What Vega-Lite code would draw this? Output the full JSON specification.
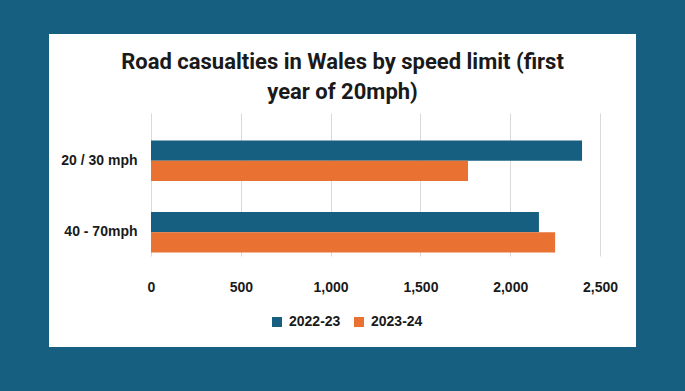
{
  "$schema": "https://vega.github.io/schema/vega-lite/v6.json",
  "autosize": {"type": "none"},
  "width": 587,
  "height": 313,
  "padding": {"left": 49, "top": 34, "right": 49, "bottom": 44},
  "background": "#175f81",
  "title": {
    "text": ["Road casualties in Wales by speed limit (first", "year of 20mph)"],
    "font": "Roboto",
    "fontSize": 22,
    "fontWeight": "bold",
    "color": "#1a1a1a",
    "anchor": "middle",
    "frame": "group",
    "offset": -70,
    "lineHeight": 30
  },
  "data": {
    "values": [
      {"speed": "20 / 30 mph", "year": "2022-23", "casualties": 2400},
      {"speed": "20 / 30 mph", "year": "2023-24", "casualties": 1765},
      {"speed": "40 - 70mph", "year": "2022-23", "casualties": 2160},
      {"speed": "40 - 70mph", "year": "2023-24", "casualties": 2250}
    ]
  },
  "mark": {"type": "bar"},
  "encoding": {
    "y": {
      "field": "speed",
      "type": "nominal",
      "sort": ["20 / 30 mph", "40 - 70mph"],
      "scale": {"range": [91, 234], "paddingInner": 0, "paddingOuter": 0},
      "axis": {
        "title": null,
        "domain": false,
        "ticks": false,
        "tickSize": 0,
        "labelPadding": 0,
        "offset": -88,
        "labelFont": "Liberation Sans",
        "labelFontSize": 14,
        "labelFontWeight": "bold",
        "labelColor": "#1a1a1a"
      }
    },
    "yOffset": {
      "field": "year",
      "type": "nominal",
      "scale": {"paddingOuter": 0.76, "paddingInner": 0}
    },
    "x": {
      "field": "casualties",
      "type": "quantitative",
      "scale": {"domain": [0, 2500], "range": [102, 551], "nice": false, "zero": true},
      "axis": {
        "values": [0, 500, 1000, 1500, 2000, 2500],
        "format": ",.0f",
        "title": null,
        "domain": false,
        "ticks": false,
        "tickSize": 0,
        "grid": true,
        "gridColor": "#d9d9d9",
        "gridWidth": 1,
        "labelPadding": 0,
        "labelFlush": false,
        "offset": -67,
        "labelFont": "Liberation Sans",
        "labelFontSize": 14,
        "labelFontWeight": "bold",
        "labelColor": "#1a1a1a"
      }
    },
    "color": {
      "field": "year",
      "type": "nominal",
      "scale": {"domain": ["2022-23", "2023-24"], "range": ["#175f81", "#e97132"]},
      "legend": {
        "orient": "none",
        "legendX": 221,
        "legendY": 281,
        "direction": "horizontal",
        "title": null,
        "symbolType": "square",
        "symbolSize": 100,
        "symbolStrokeWidth": 0,
        "labelFont": "Liberation Sans",
        "labelFontSize": 14,
        "labelFontWeight": "bold",
        "labelColor": "#1a1a1a",
        "labelOffset": 5,
        "columnPadding": 11
      }
    }
  },
  "config": {"view": {"fill": "white", "stroke": null}}
}
